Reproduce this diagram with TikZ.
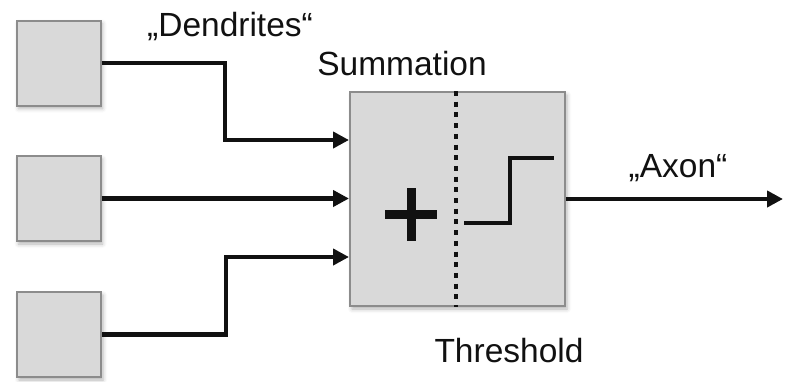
\documentclass[tikz,border=0pt]{standalone}
\usepackage{fontspec}
\setmainfont{Liberation Sans}
\usetikzlibrary{arrows.meta,shadows.blur}

\definecolor{boxfill}{HTML}{D9D9D9}
\definecolor{boxline}{HTML}{8C8C8C}
\definecolor{ink}{HTML}{111111}

\tikzset{
  unit/.style={draw=boxline, fill=boxfill, line width=2pt,
    blur shadow={shadow xshift=2pt, shadow yshift=-3pt,
                 shadow blur radius=4pt, shadow opacity=30}},
  inbox/.style={unit, minimum width=84pt, minimum height=85pt},
  conn/.style={draw=ink, line width=4.2pt, line join=miter},
  arrowconn/.style={conn, -{Triangle[length=16pt,width=16pt]}},
  label/.style={anchor=base, inner sep=0pt, text=ink,
    font=\fontsize{33.5}{40}\selectfont},
}

\begin{document}
\begin{tikzpicture}[x=1pt, y=-1pt]
  \useasboundingbox (0,0) rectangle (785,381);

  % input cells
  \node[inbox] (b1) at (58.5,63) {};
  \node[inbox] (b2) at (58.5,198.5) {};
  \node[inbox] (b3) at (59,334.5) {};

  % summation / threshold unit
  \node[unit, minimum width=215pt, minimum height=214pt] (sum) at (457.5,199) {};

  % bend points of the dendrite connectors and the axon end
  \coordinate (k1) at (225,140);
  \coordinate (k3) at (226,257);
  \coordinate (out) at (783,199);

  % dendrites
  \draw[arrowconn] (b1.east) -| (k1) -- (sum.west |- k1);
  \draw[arrowconn] (b2.east) -- (b2.east -| sum.west);
  \draw[arrowconn] (b3.east) -| (k3) -- (sum.west |- k3);

  % axon
  \draw[arrowconn] (sum.east) -- (out);

  % divider between summation and threshold
  \draw[ink, line width=4.5pt, dash pattern=on 5pt off 5.7pt]
    ([xshift=-1.5pt]sum.north) -- ([xshift=-1.5pt]sum.south);

  % plus sign
  \coordinate (plus) at (411,214);
  \draw[ink, line width=9pt] ([xshift=-26pt]plus) -- ([xshift=26pt]plus);
  \draw[ink, line width=9pt] ([yshift=26pt]plus) -- ([yshift=-27pt]plus);

  % step function
  \coordinate (s0) at (464,223);
  \draw[conn] (s0) -- (510,223) -- (510,158) -- (554,158);

  % labels
  \node[label] (tden) at (230,36) {„Dendrites“};
  \node[label] (tsum) at (402,75) {Summation};
  \node[label] (taxon) at (678,177) {„Axon“};
  \node[label] (tthr) at (509,362) {Threshold};
\end{tikzpicture}
\end{document}
